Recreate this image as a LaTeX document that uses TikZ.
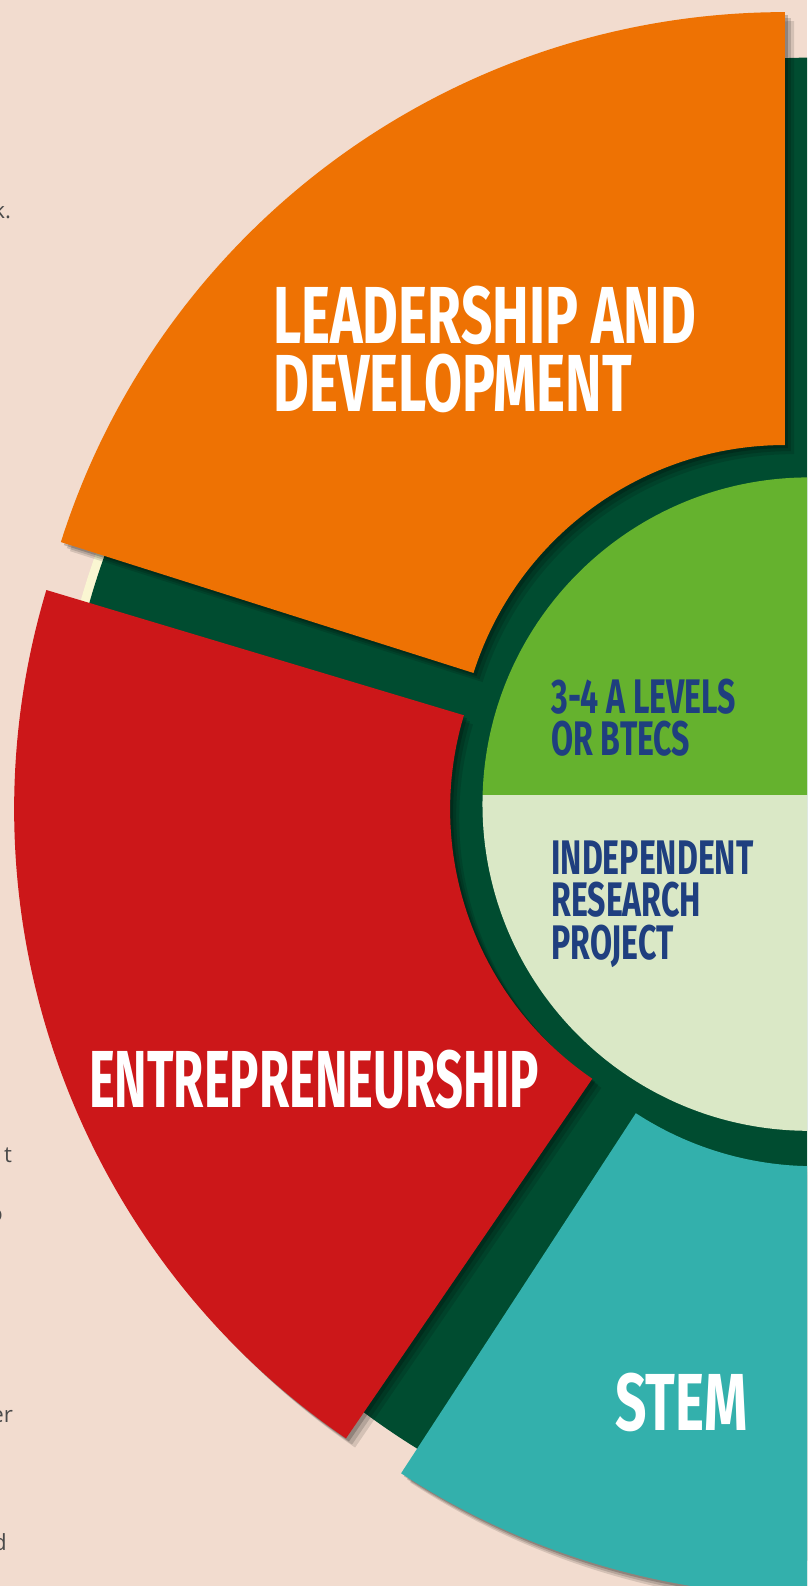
\documentclass[tikz,border=0pt]{standalone}
\usepackage{fontspec}
\usepackage{tikz}
\usetikzlibrary{shadows}
\newfontfamily\headfont[FakeStretch=0.68]{Fira Sans Bold}
\newfontfamily\narrowfont[FakeStretch=0.605]{Fira Sans Bold}
\newfontfamily\smallfont[FakeStretch=0.66]{Fira Sans Bold}
\newfontfamily\sidefont{Open Sans}
\definecolor{beige}{HTML}{F2DCCF}
\definecolor{cream}{HTML}{FAF6D2}
\definecolor{darkgreen}{HTML}{004C30}
\definecolor{orangeseg}{HTML}{EE7203}
\definecolor{redseg}{HTML}{CC1719}
\definecolor{tealseg}{HTML}{33B0AC}
\definecolor{limeseg}{HTML}{65B22E}
\definecolor{paleseg}{HTML}{DAE8C6}
\definecolor{navy}{HTML}{1F3F7F}
\definecolor{sidegrey}{HTML}{4A4A4A}
\tikzset{
  sector/.style={
    drop shadow={shadow xshift=9pt,shadow yshift=-9pt,opacity=.12,fill=black},
    drop shadow={shadow xshift=6pt,shadow yshift=-6pt,opacity=.15,fill=black},
    drop shadow={shadow xshift=3pt,shadow yshift=-3pt,opacity=.2,fill=black}},
  bigtext/.style={font=\headfont\fontsize{80}{67}\selectfont,text=white,align=left,anchor=north west,inner sep=0pt},
  smalltext/.style={font=\smallfont\fontsize{48}{42}\selectfont,text=navy,align=left,anchor=north west,inner sep=0pt},
  sidetext/.style={font=\sidefont\fontsize{22}{26}\selectfont,text=sidegrey,anchor=base east,inner sep=0pt}
}
\begin{document}
\begin{tikzpicture}[x=1pt,y=1pt]
  \useasboundingbox (0,0) rectangle (798,1568);
  \clip (0,0) rectangle (798,1568);
  \fill[beige] (0,0) rectangle (798,1568);

  % bits of the page text, cut off at the left
  \node[sidetext] (k) at (11,1352) {k.};
  \node[sidetext] (t) at (12,419) {t};
  \node[sidetext] (o) at (3,360) {o};
  \node[sidetext] (er) at (13,162) {er};
  \node[sidetext] (d) at (7,35) {d};

  % base disc
  \fill[cream,shift={(803,768)}] (0,0) -- (158:752) arc[start angle=158,end angle=168,radius=752] -- cycle;
  \fill[darkgreen] (803,768) circle[radius=743];

  % the three sectors
  \fill[orangeseg,sector,shift={(776,805)}] (90:751) arc[start angle=90,end angle=162.4,radius=751]
    -- (162.4:323) arc[start angle=162.4,end angle=90,radius=323] -- cycle;
  \fill[redseg,sector,shift={(768,768)}] (163.3:754) arc[start angle=163.3,end angle=235.6,radius=754]
    -- (235.6:323) arc[start angle=235.6,end angle=163.3,radius=323] -- cycle;
  \fill[tealseg,sector,shift={(805,738)}] (236.9:748) arc[start angle=236.9,end angle=300,radius=748]
    -- (300:323) arc[start angle=300,end angle=236.9,radius=323] -- cycle;

  % centre circle
  \begin{scope}
    \clip (800,773) circle[radius=323];
    \fill[paleseg] (470,440) rectangle (1130,782);
    \fill[limeseg] (470,782) rectangle (1130,1110);
  \end{scope}

  \node[bigtext] (lead) at (270,1285) {LEADERSHIP AND\\DEVELOPMENT};
  \node[bigtext,font=\narrowfont\fontsize{80}{67}\selectfont] (entre) at (88,530) {ENTREPRENEURSHIP};
  \node[bigtext] (stem) at (608,211) {STEM};
  \node[smalltext] (alev) at (545,897) {3-4 A LEVELS\\OR BTECS};
  \node[smalltext] (irp) at (545,737) {INDEPENDENT\\RESEARCH\\PROJECT};
\end{tikzpicture}
\end{document}
